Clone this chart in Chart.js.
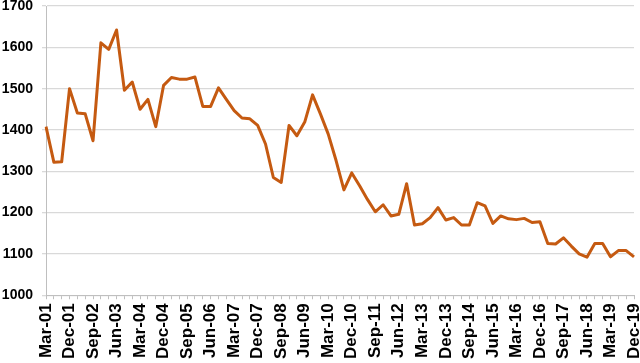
<!DOCTYPE html>
<html>
<head>
<meta charset="utf-8">
<script src="https://cdn.jsdelivr.net/npm/chart.js@4/dist/chart.umd.min.js"></script>
<style>
  html, body { margin: 0; padding: 0; background: #fff; }
  #wrap { width: 640px; height: 363px; }
</style>
</head>
<body>
<div id="wrap"><canvas id="chart"></canvas></div>
<script>
// quarters Mar-01 .. Dec-19
const years = ["01","02","03","04","05","06","07","08","09","10","11","12","13","14","15","16","17","18","19"];
const months = ["Mar", "Jun", "Sep", "Dec"];
const categories = [];
years.forEach((y) => months.forEach((m) => categories.push(m + "-" + y)));

// values
const values = [
  1408, 1322, 1323, 1500, 1441, 1439, 1374, 1611, 1595, 1642,
  1496, 1516, 1450, 1474, 1408, 1508, 1527, 1523, 1523, 1528,
  1457, 1457, 1502, 1474, 1447, 1429, 1427, 1411, 1366, 1285,
  1273, 1411, 1386, 1419, 1485, 1439, 1390, 1326, 1255, 1296,
  1265, 1232, 1202, 1219, 1192, 1196, 1270, 1170, 1173, 1188,
  1212, 1182, 1188, 1170, 1170, 1224, 1216, 1174, 1192, 1185,
  1183, 1186, 1176, 1178, 1125, 1124, 1139, 1119, 1100, 1092,
  1125, 1125, 1093, 1108, 1108, 1093
];

const yMin = 1000;
const yMax = 1700;
const yStep = 100;
const labelEvery = 3;

const ctx = document.getElementById("chart").getContext("2d");
new Chart(ctx, {
  type: "line",
  data: {
    labels: categories,
    datasets: [{
      data: values,
      borderColor: "#C55A11",
      borderWidth: 3,
      pointRadius: 0,
      tension: 0,
      borderJoinStyle: "round",
      fill: false,
    }],
  },
  options: {
    responsive: true,
    maintainAspectRatio: false,
    animation: false,
    plugins: {
      legend: { display: false },
      tooltip: { enabled: false },
    },
    scales: {
      x: {
        offset: false,
        afterFit: (scale) => { scale.paddingRight = 6; },
        grid: {
          display: true,
          drawOnChartArea: false,
          drawTicks: true,
          tickLength: 4,
          color: "#bfbfbf",
        },
        border: { display: true, color: "#bfbfbf" },
        ticks: {
          autoSkip: false,
          maxRotation: 90,
          minRotation: 90,
          padding: 4,
          color: "#000",
          font: { family: "Liberation Sans, Arial, sans-serif", size: 17, weight: "bold" },
          callback: function (val, i) {
            return i % labelEvery === 0 ? this.getLabelForValue(val) : "";
          },
        },
      },
      y: {
        min: yMin,
        max: yMax,
        afterFit: (scale) => { scale.width = 46; scale.paddingTop = 6; },
        grid: {
          color: "#d9d9d9",
          lineWidth: 1.3,
          tickLength: 4,
        },
        border: { display: true, color: "#bfbfbf" },
        ticks: {
          stepSize: yStep,
          padding: 9,
          color: "#000",
          font: { family: "Liberation Sans, Arial, sans-serif", size: 14, weight: "bold" },
          callback: (v) => String(v),
        },
      },
    },
  },
});
</script>
</body>
</html>
